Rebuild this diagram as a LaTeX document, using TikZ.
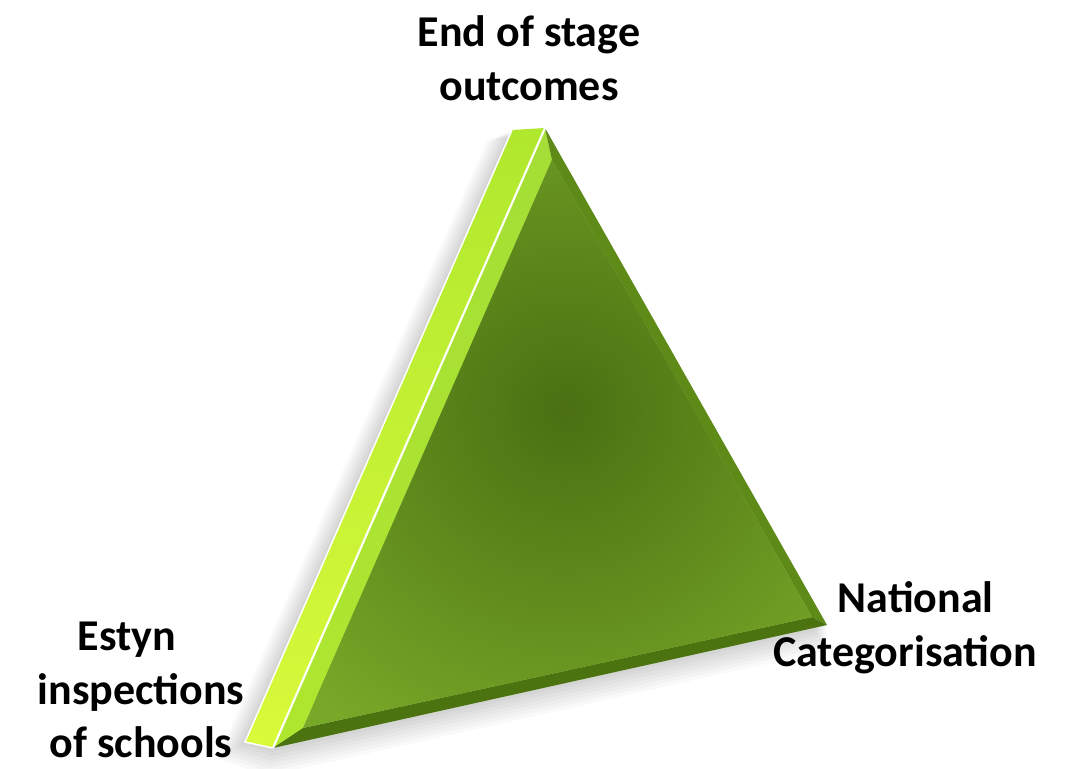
\documentclass[tikz,border=0pt]{standalone}
\usepackage{fontspec}
\setmainfont{Carlito}
\begin{document}
\begin{tikzpicture}[x=0.75pt,y=-0.75pt,
  lab/.style={inner sep=0pt, font=\bfseries\fontsize{33}{40.3}\selectfont, text=black, align=center}]
\useasboundingbox[fill=white] (0,0) rectangle (1068,768);
\definecolor{slabtop}{HTML}{B0E82E}
\definecolor{slabbot}{HTML}{D8FA3A}
\definecolor{lbevel}{HTML}{A4DE36}
\definecolor{rbevel}{HTML}{5E8A18}
\definecolor{bbevel}{HTML}{4B7410}
\definecolor{facein}{HTML}{4A7012}
\definecolor{faceout}{HTML}{78A828}
% outer triangle
\coordinate (A) at (545,128);
\coordinate (B) at (273,748);
\coordinate (C) at (827,625);
% inner face
\coordinate (Ai) at (552,160);
\coordinate (Bi) at (303,728);
\coordinate (Ci) at (812,617);
% slab (side face)
\coordinate (S1) at (512,130);
\coordinate (S2) at (245,742);
% soft shadow
\foreach \d in {3,6,9,12,15,18,21}{
  \fill[black, opacity=0.025] ([xshift=-\d*0.9, yshift=-\d*0.4]S1) -- ([xshift=-\d, yshift=-\d*0.6]S2)
     -- ([xshift=-\d*0.2, yshift=-\d*1.0]B) -- ([yshift=-\d*0.9]C) -- (A) -- cycle;
}
% slab
\shade[top color=slabtop, bottom color=slabbot] (S1) -- (S2) -- (B) -- (A) -- cycle;
% bevels
\shade[top color=lbevel, bottom color=slabtop!90!lbevel] (A) -- (B) -- (Bi) -- (Ai) -- cycle;
\fill[rbevel] (A) -- (Ai) -- (Ci) -- (C) -- cycle;
\fill[bbevel] (B) -- (C) -- (Ci) -- (Bi) -- cycle;
% face with radial darkening
\begin{scope}
  \clip (Ai) -- (Bi) -- (Ci) -- cycle;
  \fill[faceout] (Ai) -- (Bi) -- (Ci) -- cycle;
  \shade[inner color=facein, outer color=faceout] (565,410) circle (380);
\end{scope}
% white highlight lines
\draw[white, line width=1.6pt] (A) -- (B);
\draw[white, line width=1.1pt] (S1) -- (S2) -- (B);
% labels
\node[lab] (top) at (529,58.5) {End of stage\\outcomes};
\node[lab] (right) at (905,628) {\hspace*{16pt}National\\Categorisation};
\node[lab] (left) at (141,690) {Estyn\hspace*{21pt}\\inspections\\of schools};
\end{tikzpicture}
\end{document}
